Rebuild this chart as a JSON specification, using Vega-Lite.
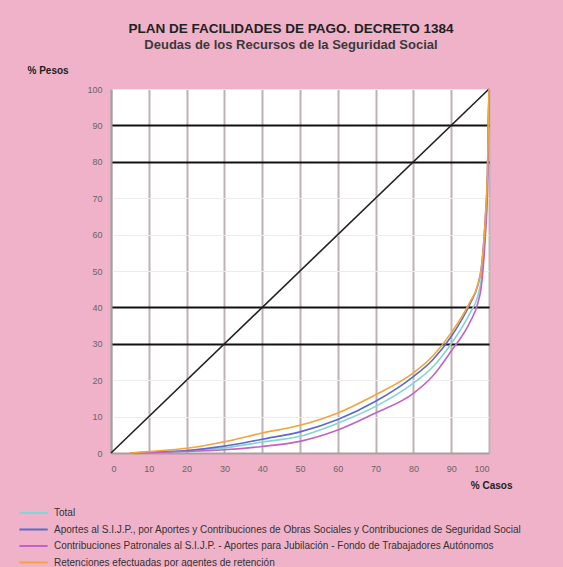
{
  "$schema": "https://vega.github.io/schema/vega-lite/v6.json",
  "autosize": {"type": "none"},
  "width": 378,
  "height": 364,
  "padding": {"left": 111, "top": 89, "right": 74, "bottom": 114},
  "background": "#F0B2C9",
  "config": {
    "view": {"fill": "white", "stroke": null},
    "font": "Liberation Sans"
  },
  "title": {
    "text": "PLAN DE FACILIDADES DE PAGO. DECRETO 1384",
    "subtitle": "Deudas de los Recursos de la Seguridad Social",
    "anchor": "middle",
    "dx": -9,
    "fontSize": 13.5,
    "fontWeight": "bold",
    "color": "#222",
    "subtitleFontSize": 13,
    "subtitleFontWeight": "bold",
    "subtitleColor": "#3a3a3a",
    "subtitlePadding": 4,
    "offset": 13
  },
  "datasets": {
    "diag": [{"x": 0, "y": 0}, {"x": 100, "y": 100}],
    "curves": [
      {"serie": "Total", "x": 5, "y": 0}, {"serie": "Total", "x": 10, "y": 0.2}, {"serie": "Total", "x": 20, "y": 0.6}, {"serie": "Total", "x": 30, "y": 1.4}, {"serie": "Total", "x": 40, "y": 3.0}, {"serie": "Total", "x": 50, "y": 4.6}, {"serie": "Total", "x": 60, "y": 8.2}, {"serie": "Total", "x": 70, "y": 12.8}, {"serie": "Total", "x": 80, "y": 19.2}, {"serie": "Total", "x": 85, "y": 23.5}, {"serie": "Total", "x": 90, "y": 30}, {"serie": "Total", "x": 95, "y": 38.5}, {"serie": "Total", "x": 97, "y": 43}, {"serie": "Total", "x": 98, "y": 48}, {"serie": "Total", "x": 99, "y": 61}, {"serie": "Total", "x": 99.6, "y": 75}, {"serie": "Total", "x": 100, "y": 100},
      {"serie": "A", "x": 5, "y": 0}, {"serie": "A", "x": 10, "y": 0.2}, {"serie": "A", "x": 20, "y": 0.7}, {"serie": "A", "x": 30, "y": 1.9}, {"serie": "A", "x": 40, "y": 3.8}, {"serie": "A", "x": 50, "y": 5.8}, {"serie": "A", "x": 60, "y": 9.2}, {"serie": "A", "x": 70, "y": 14.2}, {"serie": "A", "x": 80, "y": 21}, {"serie": "A", "x": 85, "y": 25.5}, {"serie": "A", "x": 90, "y": 32}, {"serie": "A", "x": 95, "y": 41}, {"serie": "A", "x": 97, "y": 46}, {"serie": "A", "x": 98, "y": 51}, {"serie": "A", "x": 99, "y": 64}, {"serie": "A", "x": 99.6, "y": 77}, {"serie": "A", "x": 100, "y": 100},
      {"serie": "C", "x": 5, "y": 0}, {"serie": "C", "x": 10, "y": 0.1}, {"serie": "C", "x": 20, "y": 0.4}, {"serie": "C", "x": 30, "y": 0.9}, {"serie": "C", "x": 40, "y": 1.8}, {"serie": "C", "x": 50, "y": 3.2}, {"serie": "C", "x": 60, "y": 6.3}, {"serie": "C", "x": 70, "y": 11}, {"serie": "C", "x": 80, "y": 16.4}, {"serie": "C", "x": 85, "y": 21}, {"serie": "C", "x": 90, "y": 28}, {"serie": "C", "x": 95, "y": 36}, {"serie": "C", "x": 97, "y": 41}, {"serie": "C", "x": 98, "y": 46}, {"serie": "C", "x": 99, "y": 59}, {"serie": "C", "x": 99.6, "y": 72}, {"serie": "C", "x": 100, "y": 100},
      {"serie": "R", "x": 5, "y": 0}, {"serie": "R", "x": 10, "y": 0.4}, {"serie": "R", "x": 20, "y": 1.3}, {"serie": "R", "x": 30, "y": 3.1}, {"serie": "R", "x": 40, "y": 5.5}, {"serie": "R", "x": 50, "y": 7.6}, {"serie": "R", "x": 60, "y": 11}, {"serie": "R", "x": 70, "y": 16}, {"serie": "R", "x": 80, "y": 22}, {"serie": "R", "x": 85, "y": 26.5}, {"serie": "R", "x": 90, "y": 33}, {"serie": "R", "x": 95, "y": 41.5}, {"serie": "R", "x": 97, "y": 46}, {"serie": "R", "x": 98, "y": 51}, {"serie": "R", "x": 99, "y": 64}, {"serie": "R", "x": 99.6, "y": 78}, {"serie": "R", "x": 100, "y": 100}
    ]
  },
  "encoding": {
    "x": {
      "field": "x", "type": "quantitative",
      "scale": {"domain": [0, 100], "nice": false},
      "axis": {
        "values": [0, 10, 20, 30, 40, 50, 60, 70, 80, 90, 100],
        "title": "% Casos",
        "titleX": 401, "titleY": 32, "titleAlign": "right", "titleBaseline": "middle",
        "titleFontSize": 10, "titleFontWeight": "bold", "titleColor": "#222",
        "labelFontSize": 9, "labelColor": "#666", "labelPadding": 11,
        "ticks": false,
        "domainColor": "#a8a0a0", "domainWidth": 2,
        "grid": true, "gridColor": "#bdb3b3", "gridWidth": 2
      }
    },
    "y": {
      "field": "y", "type": "quantitative",
      "scale": {"domain": [0, 100], "nice": false},
      "axis": {
        "values": [0, 10, 20, 30, 40, 50, 60, 70, 80, 90, 100],
        "title": "% Pesos",
        "titleAngle": 0, "titleX": -84, "titleY": -19, "titleAlign": "left", "titleBaseline": "middle",
        "titleFontSize": 10, "titleFontWeight": "bold", "titleColor": "#222",
        "labelFontSize": 9, "labelColor": "#666", "labelPadding": 9,
        "ticks": false,
        "domainColor": "#a8a0a0", "domainWidth": 2,
        "grid": true,
        "gridColor": {"condition": {"test": "indexof([30, 40, 80, 90], datum.value) >= 0", "value": "#111"}, "value": "#ececec"},
        "gridWidth": {"condition": {"test": "indexof([30, 40, 80, 90], datum.value) >= 0", "value": 2}, "value": 1}
      }
    }
  },
  "layer": [
    {
      "data": {"name": "diag"},
      "mark": {"type": "line", "color": "#222", "strokeWidth": 1.6}
    },
    {
      "data": {"name": "curves"},
      "mark": {"type": "line", "strokeWidth": 1.6, "interpolate": "monotone"},
      "encoding": {
        "color": {
          "field": "serie", "type": "nominal",
          "scale": {
            "domain": ["Total", "A", "C", "R"],
            "range": ["#86d3d3", "#5a6ad0", "#c462c4", "#f5a33a"]
          },
          "legend": {
            "orient": "none",
            "legendX": -93,
            "legendY": 418,
            "direction": "vertical",
            "title": null,
            "symbolType": "stroke",
            "symbolSize": 800,
            "symbolStrokeWidth": 2,
            "clipHeight": 12,
            "labelFontSize": 10,
            "labelColor": "#333",
            "labelLimit": 600,
            "labelOffset": 5,
            "rowPadding": 4.5,
            "labelExpr": "datum.value == 'Total' ? 'Total' : datum.value == 'A' ? 'Aportes al S.I.J.P., por Aportes y Contribuciones de Obras Sociales y Contribuciones de Seguridad Social' : datum.value == 'C' ? 'Contribuciones Patronales al S.I.J.P. - Aportes para Jubilación - Fondo de Trabajadores Autónomos' : 'Retenciones efectuadas por agentes de retención'"
          }
        }
      }
    }
  ]
}
